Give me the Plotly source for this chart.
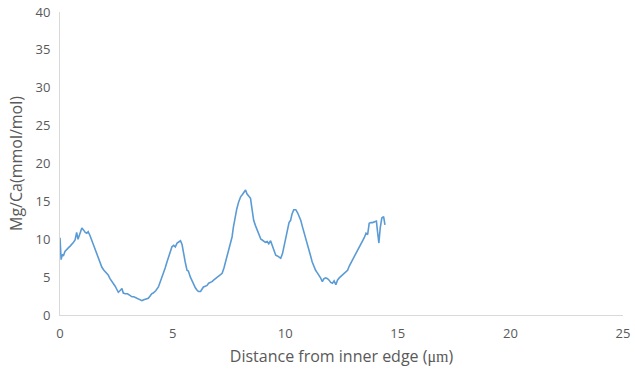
import plotly.graph_objects as go

# Mg/Ca profile along the transect
distance_um = [
    0.00, 0.05, 0.10, 0.15, 0.22, 0.30, 0.38, 0.45, 0.52, 0.60, 0.67, 0.74, 0.80, 0.88, 0.97,
    1.05, 1.12, 1.19, 1.25, 1.33, 1.41, 1.50, 1.57, 1.63, 1.72, 1.80, 1.86, 1.95, 2.05, 2.14,
    2.22, 2.30, 2.37, 2.45, 2.52, 2.59, 2.66, 2.75, 2.81, 2.90, 3.00, 3.06, 3.12, 3.20, 3.28,
    3.35, 3.41, 3.50, 3.58, 3.64, 3.72, 3.80, 3.92, 4.00, 4.07, 4.14, 4.25, 4.37, 4.45, 4.52,
    4.59, 4.67, 4.75, 4.81, 4.90, 4.97, 5.05, 5.12, 5.20, 5.28, 5.35, 5.42, 5.48, 5.56, 5.64,
    5.70, 5.79, 5.88, 5.95, 6.01, 6.08, 6.15, 6.24, 6.30, 6.37, 6.45, 6.53, 6.60, 6.68, 6.75,
    6.82, 6.90, 7.00, 7.10, 7.20, 7.28, 7.35, 7.42, 7.50, 7.57, 7.64, 7.70, 7.79, 7.85, 7.93,
    8.02, 8.10, 8.18, 8.24, 8.30, 8.38, 8.46, 8.53, 8.60, 8.68, 8.76, 8.85, 8.92, 8.98, 9.05,
    9.12, 9.20, 9.27, 9.35, 9.43, 9.50, 9.58, 9.65, 9.72, 9.80, 9.88, 9.95, 10.02, 10.10, 10.17,
    10.24, 10.30, 10.38, 10.47, 10.55, 10.62, 10.69, 10.77, 10.85, 10.91, 10.98, 11.05, 11.12,
    11.20, 11.27, 11.35, 11.42, 11.50, 11.57, 11.65, 11.72, 11.80, 11.88, 11.95, 12.02, 12.10,
    12.17, 12.25, 12.32, 12.40, 12.47, 12.55, 12.62, 12.70, 12.77, 12.85, 12.92, 12.99, 13.06,
    13.14, 13.21, 13.28, 13.36, 13.44, 13.51, 13.59, 13.66, 13.73, 13.80, 13.88, 13.96, 14.05,
    14.10, 14.16, 14.22, 14.29, 14.37, 14.43,
]
mg_ca = [
    10.2, 7.3, 8.0, 7.8, 8.4, 8.6, 8.9, 9.1, 9.3, 9.6, 9.9, 10.9, 10.0, 10.8, 11.5,
    11.2, 10.9, 10.8, 11.0, 10.5, 9.9, 9.2, 8.6, 8.2, 7.4, 6.8, 6.3, 5.9, 5.6, 5.3,
    4.8, 4.5, 4.2, 3.8, 3.4, 3.0, 3.2, 3.5, 2.9, 2.8, 2.8, 2.7, 2.6, 2.4, 2.4,
    2.3, 2.2, 2.0, 1.9, 1.9, 2.0, 2.1, 2.2, 2.5, 2.8, 2.9, 3.2, 3.7, 4.3, 4.9,
    5.5, 6.2, 7.0, 7.5, 8.5, 9.0, 9.2, 9.0, 9.5, 9.7, 9.8, 9.3, 8.2, 7.0, 5.9,
    5.8, 5.0, 4.4, 3.9, 3.6, 3.3, 3.1, 3.1, 3.4, 3.7, 3.8, 3.9, 4.2, 4.3, 4.4,
    4.6, 4.8, 5.0, 5.3, 5.5, 6.2, 7.0, 7.7, 8.8, 9.6, 10.3, 11.6, 13.4, 14.0, 14.9,
    15.6, 15.9, 16.2, 16.5, 16.0, 15.7, 15.4, 13.9, 12.5, 11.8, 11.2, 10.6, 10.0, 9.9, 9.8,
    9.6, 9.7, 9.4, 9.8, 9.2, 8.6, 7.9, 7.8, 7.7, 7.5, 8.1, 9.0, 9.9, 11.0, 12.2,
    12.5, 13.3, 13.9, 13.9, 13.5, 13.0, 12.5, 11.6, 10.8, 10.3, 9.5, 8.6, 7.9,
    7.0, 6.4, 5.9, 5.6, 5.3, 4.9, 4.4, 4.8, 4.9, 4.8, 4.6, 4.3, 4.2,
    4.5, 4.0, 4.6, 4.9, 5.1, 5.3, 5.4, 5.7, 5.9, 6.5, 6.9, 7.3, 7.6,
    8.2, 8.6, 8.9, 9.4, 9.7, 10.2, 10.8, 10.6, 12.1, 12.2, 12.2, 12.3, 12.4,
    11.0, 9.5, 11.5, 12.8, 13.0, 11.9,
]

x_ticks = [0, 5, 10, 15, 20, 25]
y_ticks = [0, 5, 10, 15, 20, 25, 30, 35, 40]

fig = go.Figure(
    go.Scatter(
        x=distance_um,
        y=mg_ca,
        mode="lines",
        line=dict(color="#5B9BD5", width=1.6),
        hoverinfo="x+y",
    )
)

axis_font = dict(family="Open Sans, Liberation Sans, sans-serif", size=13, color="#595959")
title_font = dict(family="Open Sans, Liberation Sans, sans-serif", size=16, color="#595959")

fig.update_layout(
    width=635,
    height=375,
    margin=dict(l=60, r=12, t=12, b=60),
    paper_bgcolor="white",
    plot_bgcolor="white",
    showlegend=False,
    xaxis=dict(
        range=[0, 25],
        tickvals=x_ticks,
        automargin=False,
        showgrid=False,
        zeroline=False,
        showline=True,
        linecolor="#D9D9D9",
        linewidth=1,
        ticks="",
        tickfont=axis_font,
        ticklabelstandoff=6,
        title=dict(text="Distance from inner edge (<span style='font-family:Liberation Serif'>μm</span>)",
                   font=title_font, standoff=10),
    ),
    yaxis=dict(
        range=[0, 40],
        tickvals=y_ticks,
        automargin=False,
        showgrid=False,
        zeroline=False,
        showline=True,
        linecolor="#D9D9D9",
        linewidth=1,
        ticks="",
        tickfont=axis_font,
        ticklabelstandoff=6,
        title=dict(text="Mg/Ca(mmol/mol)", font=title_font, standoff=8),
    ),
)

fig.write_html("out.html")
